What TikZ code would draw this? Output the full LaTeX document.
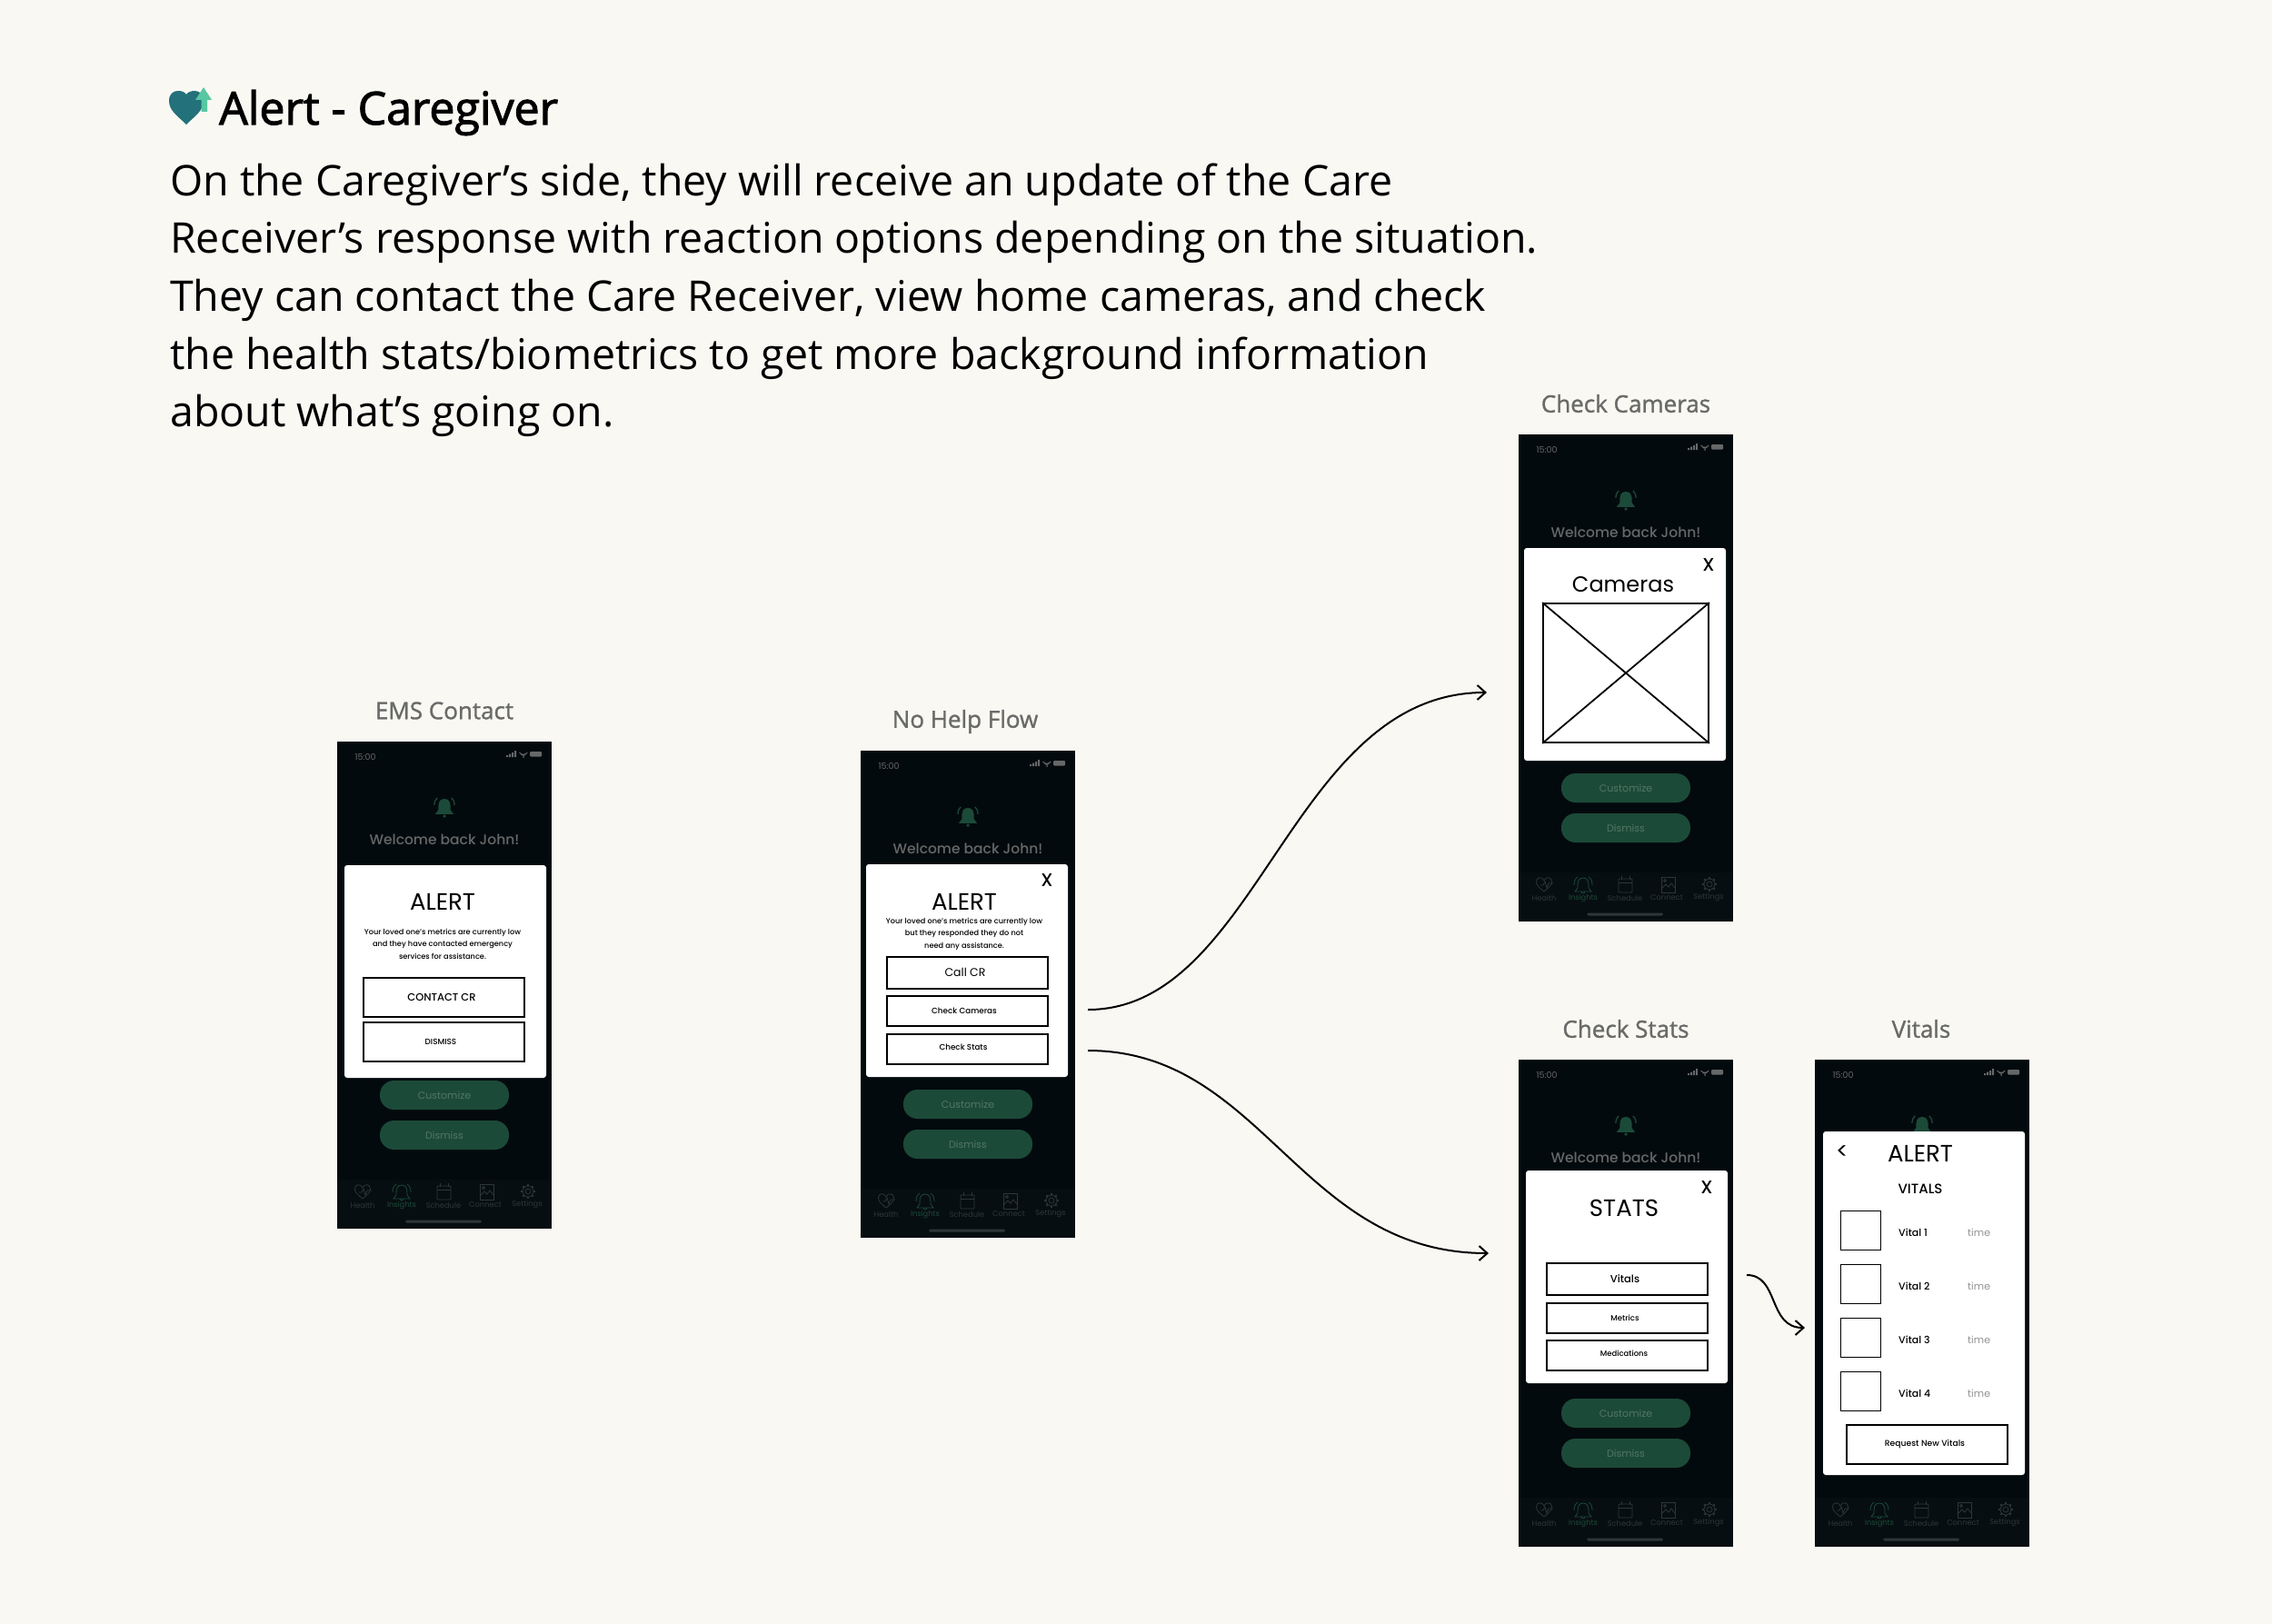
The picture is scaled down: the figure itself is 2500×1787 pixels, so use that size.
\documentclass[tikz,border=0pt]{standalone}
\usepackage{fontspec}
\usetikzlibrary{arrows.meta}
\setmainfont{Open Sans}
\newfontfamily\ossb{Open Sans}[FakeBold=1.2]
\newfontfamily\osst{Open Sans}[FakeBold=2.2]
\newfontfamily\pop{Poppins}
\newfontfamily\popb{Poppins}[UprightFont=* Medium]
\newcommand{\fsz}[1]{\fontsize{#1}{#1}\selectfont}
\newif\ifmidshown
\definecolor{pagebg}{HTML}{F9F8F3}
\definecolor{phonebg}{HTML}{030A0D}
\definecolor{tabbg}{HTML}{070E11}
\definecolor{dimgreen}{HTML}{1C4A38}
\definecolor{dimgreentxt}{HTML}{537566}
\definecolor{dimtxt}{HTML}{666868}
\definecolor{tabtxt}{HTML}{2C3639}
\definecolor{labelgray}{HTML}{6A6B69}
\definecolor{heartc}{HTML}{23717A}
\definecolor{arrowc}{HTML}{57C7A2}
\tikzset{
  x=1pt,y=-1pt,
  phoneframe/.style={fill=phonebg,draw=none,inner sep=0,minimum width=236pt,minimum height=536pt,anchor=north west,rectangle},
  modal/.style={fill=white,draw=none,rounded corners=3pt,inner sep=0,rectangle},
  pill/.style={fill=dimgreen,rounded corners=15.5pt,inner sep=0,minimum width=142pt,minimum height=32pt,text=dimgreentxt,font=\pop\fsz{11}},
  btn/.style={fill=white,draw=black,line width=2pt,inner sep=0,minimum width=177pt,rectangle},
  toptxt/.style={inner sep=0,text=black},
  steplabel/.style={inner sep=0,text=labelgray,font=\ossb\fsz{26}},
  bodytxt/.style={inner sep=0,anchor=base west,text=black,font=\fsz{46.5}},
  conn/.style={draw=black,line width=2pt,-{Straight Barb[length=9pt,width=16pt,line width=2pt]}},
  tabic/.style={draw=tabtxt,line width=0.8pt},
  tablab/.style={inner sep=0,text=tabtxt,font=\pop\fsz{8.3}},
}
% filled bell, top centre at the origin
\newcommand{\bellshape}{(0,0) .. controls (-5,0) and (-6,4) .. (-6,9) -- (-6,11) -- (-9,15) -- (9,15) -- (6,11) -- (6,9) .. controls (6,4) and (5,0) .. (0,0) -- cycle}
\newcommand{\phonebase}[3]{%
  \node[phoneframe] (#1) at (#2,#3) {};
  \begin{scope}[shift={(#2,#3)}]
    \fill[tabbg] (0,482) rectangle (236,536);
    \node[inner sep=0,text=dimtxt,font=\pop\fsz{9.5}] (#1time) at (31,17) {15:00};
    % status icons
    \fill[dimtxt] (186,15) rectangle (188,17) (189,13.5) rectangle (191,17) (192,12) rectangle (194,17) (195,10) rectangle (197,17);
    \draw[dimtxt,line width=1pt] (200.5,12) arc[start angle=150,end angle=30,radius=5] (202.5,14) arc[start angle=150,end angle=30,radius=2.6];
    \fill[dimtxt] (205,17) circle (1);
    \fill[dimtxt,rounded corners=1pt] (212,11) rectangle (225,16.5);
    % bell
    \begin{scope}[shift={(118,63)},scale=1.12]
      \fill[dimgreen] \bellshape;
      \fill[dimgreen] (0,17) circle (1.6);
      \draw[dimgreen,line width=1.3pt] (-10,6) .. controls (-10,3) and (-9,1) .. (-7,-1);
      \draw[dimgreen,line width=1.3pt] (10,6) .. controls (10,3) and (9,1) .. (7,-1);
    \end{scope}
    \ifmidshown
    \node[inner sep=0,text=dimtxt,font=\popb\fsz{15.5}] (#1welcome) at (118,108) {Welcome back John!};
    \node[pill] (#1custom) at (118,389) {Customize};
    \node[pill] (#1dismiss) at (118,433) {Dismiss};
    \fi
    % tab icons
    \draw[tabic] (28,503) .. controls (22,498) and (19.5,496) .. (19.5,492) .. controls (19.5,487) and (26,486) .. (28,491) .. controls (30,486) and (36.5,487) .. (36.5,492) .. controls (36.5,496) and (34,498) .. (28,503);
    \draw[tabic] (24,496) -- (27,496) -- (29,492) -- (31,499) -- (33,494) -- (38,494);
    \begin{scope}[shift={(71,488)}]
      \draw[dimgreen,line width=.8pt] \bellshape;
      \draw[dimgreen,line width=.8pt] (-10,8) .. controls (-10,4) and (-9,1) .. (-6,-1) (10,8) .. controls (10,4) and (9,1) .. (6,-1) (-2,15) arc[start angle=180,end angle=0,radius=2] ;
    \end{scope}
    \draw[tabic,rounded corners=1pt] (110,489) rectangle (125,504);
    \draw[tabic] (110,493) -- (125,493) (113,486) -- (113,490) (122,486) -- (122,490);
    \draw[tabic] (157,487) rectangle (172,504);
    \draw[tabic] (157,500) -- (162,495) -- (165,498) -- (168,494) -- (172,499) (161,491) circle (1.5);
    \draw[tabic] (210,495) circle (3);
    \draw[tabic] (210,495) circle (6);
    \foreach \a in {0,45,...,315} {\draw[tabic,line width=1.8pt] (210,495) ++(\a:6) -- ++(\a:2);}
    \node[tablab] (#1tabA) at (28,510) {Health};
    \node[inner sep=0,text=dimgreen,font=\pop\fsz{8.3}] (#1tabB) at (71,510) {Insights};
    \node[tablab] (#1tabC) at (117,510) {Schedule};
    \node[tablab] (#1tabD) at (163,510) {Connect};
    \node[tablab] (#1tabE) at (209,509) {Settings};
    \fill[tabtxt,rounded corners=1.5pt] (75,526.5) rectangle (159,529.5);
  \end{scope}
}
\begin{document}
\begin{tikzpicture}
\useasboundingbox (0,0) rectangle (2500,1787);
\fill[pagebg] (0,0) rectangle (2500,1787);

% header icon
\fill[heartc] (205,137) .. controls (196,128) and (186,122) .. (186,111) .. controls (186,103) and (191,100) .. (196,100) .. controls (200,100) and (203,101) .. (205,104) .. controls (207,101) and (211,100) .. (214,100) .. controls (219,100) and (224,103) .. (224,111) .. controls (224,122) and (214,128) .. (205,137) -- cycle;
\fill[arrowc] (224,96) -- (233,110) -- (228,110) -- (228,123) -- (221.5,123) -- (221.5,110) -- (215,110) -- cycle;

\node[inner sep=0,anchor=base west,text=black,font=\osst\fsz{50}] (title) at (241,137) {Alert - Caregiver};
\node[bodytxt] (bodyA) at (187,215.5) {On the Caregiver’s side, they will receive an update of the Care};
\node[bodytxt] (bodyB) at (187,279) {Receiver’s response with reaction options depending on the situation.};
\node[bodytxt] (bodyC) at (187,342.5) {They can contact the Care Receiver, view home cameras, and check};
\node[bodytxt] (bodyD) at (187,406) {the health stats/biometrics to get more background information};
\node[bodytxt] (bodyE) at (187,469.5) {about what’s going on.};

% captions
\node[steplabel] (lemS) at (489,782) {EMS Contact};
\node[steplabel] (lnoh) at (1062,794) {No Help Flow};
\node[steplabel] (lcam) at (1789,444) {Check Cameras};
\node[steplabel] (lsta) at (1789,1132) {Check Stats};
\node[steplabel] (lvit) at (2114,1132) {Vitals};

\midshowntrue
% EMS
\phonebase{ems}{371}{816}
\node[modal,minimum width=222pt,minimum height=234pt] (emsM) at (490,1069) {};
\node[toptxt,font=\pop\fsz{26}] (emsA) at (487,992) {ALERT};
\node[toptxt,font=\popb\fsz{8.2},align=center] (emsT) at (487,1039) {Your loved one’s metrics are currently low\\[4.7pt]and they have contacted emergency\\[4.7pt]services for assistance.};
\node[btn,minimum height=43pt] (emsB1) at (488.5,1097) {};
\node[toptxt,font=\popb\fsz{11.5}] (emsB1t) at (486,1097) {CONTACT CR};
\node[btn,minimum height=43pt] (emsB2) at (488.5,1146) {};
\node[toptxt,font=\popb\fsz{8.8}] (emsB2t) at (485,1146) {DISMISS};

% No help
\phonebase{noh}{947}{826}
\node[modal,minimum width=222pt,minimum height=234pt] (nohM) at (1064,1068) {};
\node[toptxt,font=\popb\fsz{20}] (nohX) at (1152,969) {X};
\node[toptxt,font=\pop\fsz{26}] (nohA) at (1061,992) {ALERT};
\node[toptxt,font=\popb\fsz{8.2},align=center] (nohT) at (1061,1028) {Your loved one’s metrics are currently low\\[4.7pt]but they responded they do not\\[4.7pt]need any assistance.};
\node[btn,minimum height=35pt] (nohB1) at (1064,1070) {};
\node[toptxt,font=\pop\fsz{12.5}] (nohB1t) at (1062,1070) {Call CR};
\node[btn,minimum height=33pt] (nohB2) at (1064,1112) {};
\node[toptxt,font=\popb\fsz{8.8}] (nohB2t) at (1061,1112) {Check Cameras};
\node[btn,minimum height=33pt] (nohB3) at (1064,1154) {};
\node[toptxt,font=\popb\fsz{8.8}] (nohB3t) at (1060,1152) {Check Stats};

% Cameras
\phonebase{cam}{1671}{478}
\node[modal,minimum width=222pt,minimum height=234pt] (camM) at (1788,720) {};
\node[toptxt,font=\popb\fsz{20}] (camX) at (1880,622) {X};
\node[toptxt,font=\pop\fsz{24}] (camT) at (1786,643) {Cameras};
\node[fill=white,draw=black,line width=1.8pt,inner sep=0,minimum width=182pt,minimum height=153pt] (camI) at (1789,740.5) {};
\draw[black,line width=1.8pt] (camI.north west) -- (camI.south east) (camI.north east) -- (camI.south west);

% Stats
\phonebase{sta}{1671}{1166}
\node[modal,minimum width=222pt,minimum height=234pt] (staM) at (1790,1405) {};
\node[toptxt,font=\popb\fsz{20}] (staX) at (1878,1307) {X};
\node[toptxt,font=\pop\fsz{26}] (staT) at (1787,1329) {STATS};
\node[btn,minimum height=35pt] (staB1) at (1790.5,1407) {};
\node[toptxt,font=\popb\fsz{11.5}] (staB1t) at (1788,1407) {Vitals};
\node[btn,minimum height=33pt] (staB2) at (1790.5,1450) {};
\node[toptxt,font=\popb\fsz{8.5}] (staB2t) at (1788,1450) {Metrics};
\node[btn,minimum height=33pt] (staB3) at (1790.5,1491) {};
\node[toptxt,font=\popb\fsz{8.5}] (staB3t) at (1787,1489) {Medications};

% Vitals
\midshownfalse
\phonebase{vit}{1997}{1166}
\node[modal,minimum width=222pt,minimum height=378pt] (vitM) at (2117,1434) {};
\node[toptxt,font=\pop\fsz{25}] (vitBack) at (2027,1268) {<};
\node[toptxt,font=\pop\fsz{26}] (vitA) at (2113,1269) {ALERT};
\node[toptxt,font=\popb\fsz{15}] (vitV) at (2113,1308) {VITALS};
\foreach \n/\yy/\lab in {a/1354/Vital 1,b/1413/Vital 2,c/1472/Vital 3,d/1531/Vital 4} {
  \node[fill=white,draw=black,line width=1.6pt,inner sep=0,minimum width=44pt,minimum height=43pt] (vitS\n) at (2047.5,\yy) {};
  \node[toptxt,anchor=west,font=\popb\fsz{11}] (vitL\n) at (2089,\yy+2) {\lab};
  \node[inner sep=0,anchor=west,text=gray!85,font=\pop\fsz{11}] (vitTm\n) at (2165,\yy+2) {time};
}
\node[btn,minimum height=43pt] (vitR) at (2120.5,1589) {};
\node[toptxt,font=\popb\fsz{9.2}] (vitRt) at (2118,1589) {Request New Vitals};

% connectors
\coordinate (upS) at (1197,1111);
\coordinate (upE) at (1636,762);
\coordinate (loS) at (1197,1156);
\coordinate (loE) at (1638,1379);
\coordinate (smS) at (1922,1403);
\coordinate (smE) at (1986,1461);
\draw[conn] (upS) .. controls (1385,1111) and (1420,762) .. (upE);
\draw[conn] (loS) .. controls (1390,1156) and (1430,1379) .. (loE);
\draw[conn] (smS) .. controls (1958,1403) and (1945,1461) .. (smE);
\end{tikzpicture}
\end{document}
